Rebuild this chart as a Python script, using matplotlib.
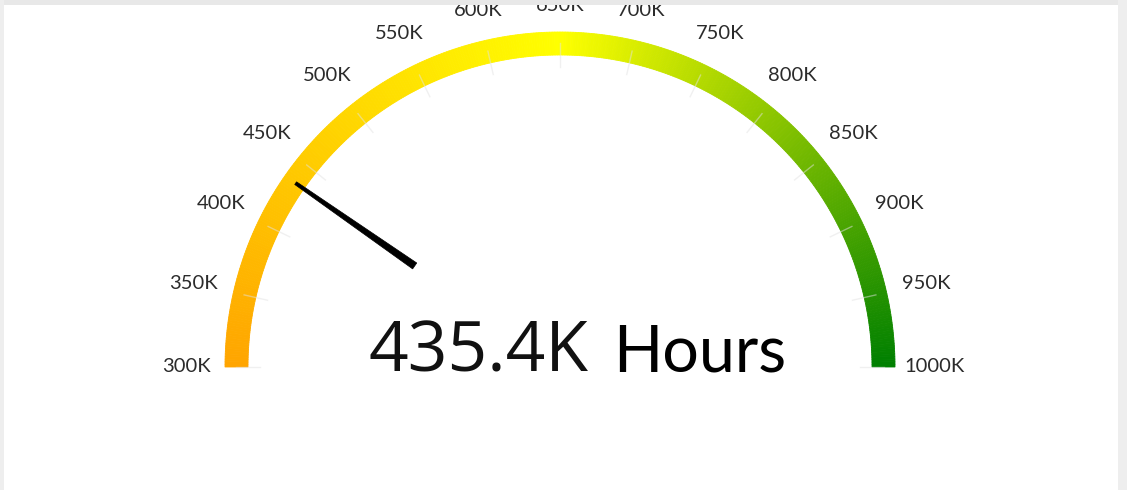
import numpy as np
import matplotlib
matplotlib.use("Agg")
import matplotlib.pyplot as plt
from matplotlib.patches import Wedge, Polygon, Rectangle
from matplotlib.colors import LinearSegmentedColormap

# Données de la jauge
gauge_min = 300
gauge_max = 1000
tick_values = [300, 350, 400, 450, 500, 550, 600, 650, 700, 750, 800, 850, 900, 950, 1000]
tick_labels = ["300K", "350K", "400K", "450K", "500K", "550K", "600K", "650K",
               "700K", "750K", "800K", "850K", "900K", "950K", "1000K"]
current_value = 435.4
value_text = "435.4K"
unit_text = "Hours"
gradient_colors = ["#FFA500", "#FFFF00", "#008000"]

# Géométrie (en pixels, y vers le haut)
W, H = 1127, 490
cx, cy = 560, H - 367
r_out, r_in = 335, 312

cmap = LinearSegmentedColormap.from_list("gauge", gradient_colors)


def to_angle(v):
    # 300K à gauche (180°), 1000K à droite (0°)
    return 180 - (v - gauge_min) / (gauge_max - gauge_min) * 180


fig = plt.figure(figsize=(W / 100, H / 100), dpi=100)
ax = fig.add_axes([0, 0, 1, 1])
ax.set_xlim(0, W)
ax.set_ylim(0, H)
ax.set_aspect("equal")
ax.axis("off")

# Arc en dégradé
n_seg = 400
edges = np.linspace(gauge_min, gauge_max, n_seg + 1)
for i in range(n_seg):
    a1, a2 = to_angle(edges[i + 1]), to_angle(edges[i])
    col = cmap(i / (n_seg - 1))
    ax.add_patch(Wedge((cx, cy), r_out, a1, a2, width=r_out - r_in,
                       facecolor=col, edgecolor=col, linewidth=0.6, zorder=2))

# Graduations et étiquettes
for v, lab in zip(tick_values, tick_labels):
    t = np.radians(to_angle(v))
    c, s = np.cos(t), np.sin(t)
    ax.plot([cx + 300 * c, cx + 324 * c], [cy + 300 * s, cy + 324 * s],
            color="#e2e2e2", lw=1, alpha=0.5, zorder=3)
    r_lab = 351 + 23 * abs(c) + 10 * s
    ax.text(cx + r_lab * c, cy + r_lab * s, lab, ha="center", va="center",
            fontsize=14.5, family="Lato", color="#2b2b2b", zorder=4)

# Aiguille
t = np.radians(to_angle(current_value))
d = np.array([np.cos(t), np.sin(t)])
n = np.array([-d[1], d[0]])
base, tip = 177, 322
pts = [
    (cx, cy) + base * d + 3.6 * n,
    (cx, cy) + tip * d + 1.6 * n,
    (cx, cy) + tip * d - 1.6 * n,
    (cx, cy) + base * d - 3.6 * n,
]
ax.add_patch(Polygon(pts, closed=True, facecolor="black", edgecolor="black",
                     linewidth=0.5, zorder=5))

# Valeur et unité
ax.text(368, H - 372, value_text, ha="left", va="baseline",
        fontsize=50, family="Open Sans", color="#111111", zorder=6)
ax.text(613, H - 372, unit_text, ha="left", va="baseline",
        fontsize=46.5, family="Lato", color="black", zorder=6)

# Cadre gris
ax.add_patch(Rectangle((0, H - 5), W, 5, facecolor="#e8e8e8", edgecolor="none", zorder=10))
ax.add_patch(Rectangle((0, 0), 4, H, facecolor="#eeeeee", edgecolor="none", zorder=10))
ax.add_patch(Rectangle((W - 9, 0), 9, H, facecolor="#eeeeee", edgecolor="none", zorder=10))

fig.savefig("out.png", dpi=100, facecolor="white")
